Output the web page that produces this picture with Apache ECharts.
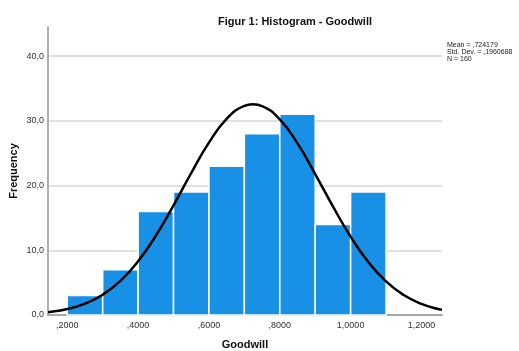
<!DOCTYPE html>
<html>
<head>
<meta charset="utf-8">
<script src="https://cdn.jsdelivr.net/npm/echarts@6/dist/echarts.min.js"></script>
<style>
  html, body { margin: 0; padding: 0; background: #fff; }
  #chart { width: 519px; height: 351px; }
</style>
</head>
<body>
<div id="chart"></div>
<script>
// Histogram - Goodwill (bins of ,1 wide)
const binStarts = [0.2, 0.3, 0.4, 0.5, 0.6, 0.7, 0.8, 0.9, 1.0];
const binEnds = [0.3, 0.4, 0.5, 0.6, 0.7, 0.8, 0.9, 1.0, 1.1];
const counts = [3, 7, 16, 19, 23, 28, 31, 14, 19];

// normal curve
const curveX = [0.1456, 0.15, 0.2, 0.25, 0.3, 0.35, 0.4, 0.45, 0.5, 0.55, 0.6, 0.65, 0.7, 0.724,
  0.75, 0.8, 0.85, 0.9, 0.95, 1.0, 1.05, 1.1, 1.15, 1.2, 1.25, 1.258];
const curveY = [0.42, 0.45, 0.92, 1.75, 3.14, 5.27, 8.3, 12.24, 16.93, 21.94, 26.64, 30.31, 32.31, 32.56,
  32.28, 30.22, 26.51, 21.78, 16.78, 12.11, 8.19, 5.19, 3.08, 1.71, 0.89, 0.8];

const xTicks = [0.2, 0.4, 0.6, 0.8, 1.0, 1.2];
const statsLines = ['Mean = ,724179', 'Std. Dev. = ,1960688', 'N = 160'];

const FONT = '"Liberation Sans", Arial, sans-serif';

const myChart = echarts.init(document.getElementById('chart'));

const option = {
  animation: false,
  title: {
    text: 'Figur 1: Histogram - Goodwill',
    left: 213,
    top: 11,
    textStyle: { fontFamily: FONT, fontSize: 11, fontWeight: 'bold', color: '#111' }
  },
  graphic: [
    {
      type: 'text',
      left: 447,
      top: 42,
      style: {
        text: statsLines.join('\n'),
        font: '7px ' + FONT,
        lineHeight: 7,
        fill: '#222'
      }
    }
  ],
  grid: { left: 48, right: 77, top: 27, bottom: 36, containLabel: false, outerBoundsMode: 'none' },
  xAxis: {
    type: 'value',
    min: 0.1456,
    max: 1.258,
    name: 'Goodwill',
    nameLocation: 'middle',
    nameGap: 24,
    nameMoveOverlap: false,
    nameTextStyle: { fontFamily: FONT, fontSize: 11, fontWeight: 'bold', color: '#111' },
    axisLine: { show: true, lineStyle: { color: '#a8a8a8', width: 2 } },
    axisTick: { show: false },
    splitLine: { show: false },
    axisLabel: {
      customValues: xTicks,
      margin: 6,
      fontFamily: FONT,
      fontSize: 9,
      color: '#333',
      formatter: v => v.toFixed(4).replace('.', ',').replace(/^0/, '')
    }
  },
  yAxis: {
    type: 'value',
    min: 0,
    max: 44.5,
    interval: 10,
    name: 'Frequency',
    nameLocation: 'middle',
    nameGap: 29,
    nameMoveOverlap: false,
    nameTextStyle: { fontFamily: FONT, fontSize: 11, fontWeight: 'bold', color: '#111' },
    axisLine: { show: true, lineStyle: { color: '#b0b0b0', width: 2 } },
    axisTick: { show: false },
    splitLine: { show: true, showMaxLine: false, lineStyle: { color: '#d6d6d6', width: 1.5 } },
    axisLabel: {
      showMaxLabel: false,
      margin: 4,
      fontFamily: FONT,
      fontSize: 9,
      color: '#333',
      formatter: v => v.toFixed(1).replace('.', ',')
    }
  },
  series: [
    {
      name: 'bins',
      type: 'custom',
      z: 2,
      encode: { x: [0, 1], y: 2 },
      data: binStarts.map((s, i) => [s, binEnds[i], counts[i]]),
      renderItem: function (params, api) {
        const p0 = api.coord([api.value(0), 0]);
        const p1 = api.coord([api.value(1), api.value(2)]);
        return {
          type: 'rect',
          shape: { x: p0[0], y: p1[1], width: p1[0] - p0[0], height: p0[1] - p1[1] },
          style: { fill: '#1890e5', stroke: '#ffffff', lineWidth: 1.5 }
        };
      }
    },
    {
      name: 'normal',
      type: 'line',
      z: 3,
      smooth: true,
      symbol: 'none',
      lineStyle: { color: '#000', width: 2.5 },
      data: curveX.map((x, i) => [x, curveY[i]])
    }
  ]
};

myChart.setOption(option);
</script>
</body>
</html>
